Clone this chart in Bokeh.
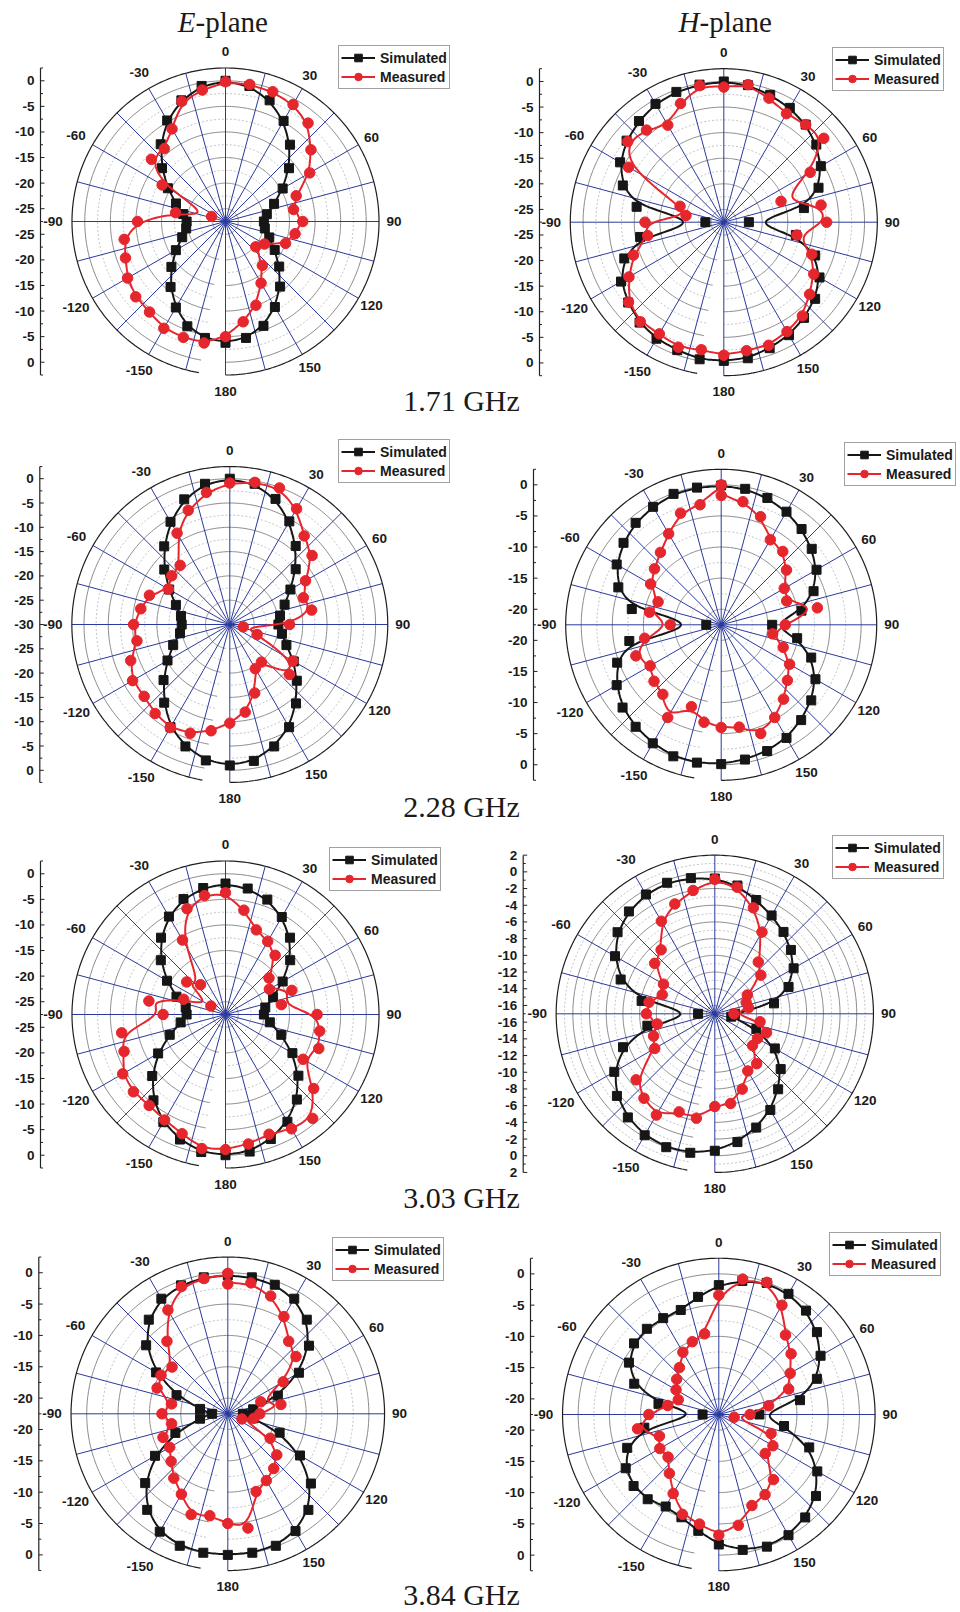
import numpy as np
from bokeh.plotting import figure
from bokeh.models import Range1d, Legend, LegendItem
from bokeh.core.properties import value
from bokeh.embed import file_html
from bokeh.resources import INLINE

# ---------------------------------------------------------------------------
# Radiation patterns (dB), sampled every 10 degrees from 0 to 360
# ---------------------------------------------------------------------------
ANGLES = list(range(0, 361, 10))

E171_SIM = [0.0, -0.6, -2.3, -4.8, -7.9, -11.3, -14.6, -17.4, -19.3, -20.0,
            -19.7, -18.4, -16.4, -13.8, -10.9, -8.2, -5.8, -4.4, -3.8, -4.4,
            -5.7, -8.1, -10.8, -13.7, -16.3, -18.5, -19.7, -19.9, -19.1, -17.2,
            -14.5, -11.3, -7.8, -4.7, -2.3, -0.6, 0.0]
E171_MEAS = [-0.2, -0.3, -0.5, -1.1, -2.4, -5.7, -8.5, -12.8, -14.0, -12.4,
             -13.7, -15.0, -18.7, -19.8, -16.3, -13.6, -10.1, -7.6, -5.0, -3.4,
             -3.4, -3.4, -4.4, -4.6, -5.4, -6.7, -7.4, -10.3, -17.6, -24.6,
             -13.2, -8.6, -8.9, -6.6, -2.5, -1.4, -0.2]

H171_SIM = [0.0, -0.3, -1.0, -1.7, -2.6, -3.9, -5.6, -7.8, -11.6, -22.6,
            -13.2, -8.5, -5.9, -4.2, -3.1, -2.0, -1.3, -0.5, -0.4, -0.3,
            -0.9, -1.2, -1.9, -3.1, -4.3, -6.8, -10.9, -23.9, -10.2, -6.5,
            -4.1, -2.7, -1.7, -0.8, -0.4, -0.2, 0.0]
H171_MEAS = [-1.1, -0.2, -1.7, -3.0, -2.6, -2.0, -8.0, -15.6, -8.2, -7.4,
             -13.0, -9.2, -7.2, -5.6, -3.6, -2.8, -1.9, -2.0, -1.5, -2.2,
             -1.5, -2.3, -2.1, -3.2, -6.1, -8.7, -12.4, -12.1, -20.0, -18.4,
             -6.0, -3.0, -4.0, -5.6, -2.8, -0.4, -1.1]

E228_SIM = [0.0, -0.6, -2.5, -5.5, -8.9, -12.3, -15.6, -18.0, -19.5, -20.0,
            -19.1, -17.6, -14.8, -12.0, -8.8, -5.6, -3.3, -1.5, -1.0, -1.6,
            -3.3, -5.6, -9.0, -12.2, -15.2, -17.6, -19.6, -20.1, -19.8, -18.2,
            -15.6, -12.4, -9.0, -5.6, -2.6, -0.6, 0.0]
E228_MEAS = [-0.9, -0.3, -0.1, -2.5, -6.2, -7.9, -12.0, -13.9, -12.9, -17.7,
             -27.2, -24.0, -15.0, -14.0, -19.9, -19.5, -15.0, -11.7, -9.7, -7.8,
             -6.2, -5.5, -6.1, -7.0, -6.9, -8.3, -10.6, -10.2, -11.4, -12.4,
             -15.4, -14.4, -14.1, -8.3, -5.0, -2.4, -0.9]

H228_SIM = [-0.1, -0.3, -0.8, -1.5, -2.4, -3.5, -4.8, -6.7, -9.4, -14.3,
            -10.1, -7.1, -5.0, -3.6, -2.5, -1.5, -0.9, -0.5, -0.1, 0.0,
            0.0, -0.5, -1.1, -1.8, -3.1, -4.7, -7.5, -20.1, -7.9, -4.9,
            -3.1, -2.0, -1.1, -0.6, -0.1, -0.1, -0.1]
H228_MEAS = [-1.7, -2.4, -4.0, -6.7, -7.1, -8.8, -10.8, -11.3, -6.8, -12.2,
             -14.1, -11.9, -9.8, -8.6, -6.9, -5.3, -3.9, -5.8, -6.0, -6.6,
             -8.5, -5.3, -7.9, -8.4, -9.3, -7.9, -10.0, -14.3, -10.8, -11.7,
             -9.4, -8.5, -7.3, -5.6, -3.4, -2.9, 0.0]

E303_SIM = [-1.9, -2.5, -3.6, -5.5, -7.9, -11.0, -14.6, -17.6, -19.6, -20.0,
            -18.7, -15.9, -12.4, -8.9, -5.8, -3.3, -1.6, -0.3, 0.0, -0.2,
            -1.5, -3.2, -5.6, -8.8, -12.3, -15.9, -18.6, -19.9, -19.6, -17.3,
            -14.3, -11.0, -7.9, -5.4, -3.5, -2.4, -1.9]
E303_MEAS = [-3.7, -6.8, -9.9, -11.0, -12.4, -16.4, -17.6, -13.7, -16.4, -9.6,
             -8.8, -8.1, -10.0, -5.0, -1.0, -1.7, -2.6, -1.8, -1.1, -0.9,
             -2.7, -3.7, -4.3, -4.0, -4.3, -6.4, -6.9, -15.3, -12.3, -18.8,
             -24.2, -17.6, -19.9, -10.7, -5.5, -3.9, -3.7]

H303_SIM = [-0.8, -1.4, -2.5, -3.4, -4.2, -5.1, -6.1, -7.6, -9.8, -14.6,
            -15.0, -11.7, -8.7, -6.7, -5.2, -3.7, -2.5, -1.4, -0.6, -0.1,
            0.0, -0.2, -0.8, -1.7, -3.1, -5.3, -8.8, -15.0, -8.1, -5.0,
            -3.2, -1.8, -1.0, -0.5, -0.3, -0.5, -0.8]
H303_MEAS = [-0.9, -1.6, -3.5, -5.7, -8.9, -9.8, -12.5, -13.0, -12.9, -14.7,
             -11.5, -10.4, -11.1, -11.1, -9.2, -9.1, -7.4, -6.1, -5.9, -4.3,
             -4.5, -3.0, -3.8, -4.7, -8.7, -9.2, -10.0, -8.8, -9.0, -10.3,
             -9.9, -7.6, -7.0, -4.2, -3.0, -2.0, -0.9]

E384_SIM = [-0.4, -0.4, -0.6, -1.3, -2.9, -5.6, -9.4, -14.0, -18.4, -20.1,
            -18.4, -13.7, -9.2, -5.2, -2.5, -0.9, -0.1, 0.0, 0.0, 0.0,
            -0.1, -0.8, -2.5, -5.3, -9.1, -13.6, -18.0, -20.0, -18.0, -13.8,
            -9.3, -5.5, -2.9, -1.3, -0.7, -0.4, -0.4]
E384_MEAS = [-1.8, -1.3, -2.5, -4.6, -7.4, -8.3, -12.3, -16.9, -13.9, -17.4,
             -18.3, -20.1, -14.7, -12.3, -11.1, -10.2, -9.3, -4.0, -5.0, -6.0,
             -5.4, -7.7, -9.1, -10.7, -11.8, -11.5, -13.4, -12.0, -13.4, -10.5,
             -10.2, -10.9, -7.4, -3.4, -0.9, -0.6, -0.1]

H384_SIM = [-1.8, -0.8, -0.1, -0.2, -0.8, -2.0, -3.7, -5.8, -9.3, -16.0,
            -11.9, -7.1, -4.3, -2.2, -1.0, -0.2, 0.0, -0.5, -1.7, -3.6,
            -5.0, -5.5, -4.8, -4.7, -5.3, -6.9, -10.4, -19.9, -12.7, -8.1,
            -5.9, -4.8, -4.6, -4.7, -4.7, -3.4, -1.8]
H384_MEAS = [-3.4, -0.5, 0.0, -2.3, -5.9, -7.4, -9.3, -10.6, -14.4, -17.5,
             -20.0, -13.6, -12.5, -12.8, -8.9, -7.7, -7.0, -4.5, -3.2, -4.7,
             -5.5, -7.9, -10.2, -11.9, -11.6, -12.4, -9.3, -11.3, -14.2, -15.6,
             -14.6, -13.7, -12.7, -11.0, -10.1, -9.4, -3.4]

SERIES_NAMES = ["Simulated", "Measured"]
PLANE_TITLES = [("E", "-plane"), ("H", "-plane")]
FREQ_LABELS = ["1.71 GHz", "2.28 GHz", "3.03 GHz", "3.84 GHz"]
ANGLE_TICKS = [0, 30, 60, 90, 120, 150, 180, -150, -120, -90, -60, -30]

# ---------------------------------------------------------------------------
# Page layout (pixels) and radial scale of every polar panel
# ---------------------------------------------------------------------------
W, H = 960, 1612
PANELS = [
    dict(sim=E171_SIM, meas=E171_MEAS, cx=225.0, cy=221.0, rmin=-27.5, rmax=2.5, step=5, scale=5.117, axis_x=40.0, leg=(338, 49)),
    dict(sim=H171_SIM, meas=H171_MEAS, cx=723.3, cy=221.7, rmin=-27.5, rmax=2.5, step=5, scale=5.117, axis_x=539.0, leg=(832, 51)),
    dict(sim=E228_SIM, meas=E228_MEAS, cx=229.3, cy=624.0, rmin=-30.0, rmax=2.5, step=5, scale=4.86, axis_x=39.3, leg=(338, 443)),
    dict(sim=H228_SIM, meas=H228_MEAS, cx=720.7, cy=624.3, rmin=-22.5, rmax=2.5, step=5, scale=6.22, axis_x=533.0, leg=(844, 446)),
    dict(sim=E303_SIM, meas=E303_MEAS, cx=225.0, cy=1014.0, rmin=-27.5, rmax=2.5, step=5, scale=5.117, axis_x=40.0, leg=(329, 851)),
    dict(sim=H303_SIM, meas=H303_MEAS, cx=714.3, cy=1013.3, rmin=-17.0, rmax=2.0, step=2, scale=8.35, axis_x=522.7, leg=(832, 839)),
    dict(sim=E384_SIM, meas=E384_MEAS, cx=227.3, cy=1413.3, rmin=-22.5, rmax=2.5, step=5, scale=6.27, axis_x=38.3, leg=(332, 1241)),
    dict(sim=H384_SIM, meas=H384_MEAS, cx=718.3, cy=1414.0, rmin=-22.5, rmax=2.5, step=5, scale=6.25, axis_x=530.0, leg=(829, 1236)),
]
TITLE_POS = [(195, 21), (699, 21)]          # join point of letter and "-plane", text middle
FREQ_POS = [(461, 400), (461, 806), (461, 1197), (461, 1594)]
LEG_H = 40

SANS = value("Liberation Sans")
SERIF = value("Liberation Serif")
SIM_COLOR = "#161616"
MEAS_COLOR = "#e5262d"
SPOKE_COLOR = "#2b3a9c"


def bspline_closed(xs, ys, n=12):
    """Uniform cubic B-spline through a closed ring of control points."""
    P = np.column_stack([xs, ys])
    m = len(P)
    t = np.linspace(0.0, 1.0, n, endpoint=False)[:, None]
    b0 = (1 - t) ** 3 / 6
    b1 = (3 * t ** 3 - 6 * t ** 2 + 4) / 6
    b2 = (-3 * t ** 3 + 3 * t ** 2 + 3 * t + 1) / 6
    b3 = t ** 3 / 6
    segs = [b0 * P[(i - 1) % m] + b1 * P[i] + b2 * P[(i + 1) % m] + b3 * P[(i + 2) % m]
            for i in range(m)]
    out = np.vstack(segs + [segs[0][:1]])
    return out[:, 0], out[:, 1]


def polar_xy(angles_deg, vals, rmin):
    th = np.radians(np.asarray(angles_deg, dtype=float))
    rr = np.asarray(vals, dtype=float) - rmin
    return rr * np.sin(th), rr * np.cos(th)


p = figure(width=W, height=H, x_range=Range1d(0, W), y_range=Range1d(H, 0),
           x_axis_location=None, y_axis_location=None,
           output_backend="svg", toolbar_location=None, min_border=0)
p.grid.grid_line_color = None
p.outline_line_color = None
p.background_fill_color = "white"


def draw_panel(cfg):
    cx, cy, s = cfg["cx"], cfg["cy"], cfg["scale"]
    rmin, rmax, step = cfg["rmin"], cfg["rmax"], cfg["step"]
    R = rmax - rmin
    half = step / 2.0
    sub = p.subplot(x_source=Range1d(-1, 1), y_source=Range1d(-1, 1),
                    x_target=Range1d(cx - s, cx + s), y_target=Range1d(cy + s, cy - s))

    # radial levels (dB) on the half-step lattice
    levels = np.arange(np.ceil(rmin / half) * half, rmax + 1e-9, half)
    is_major = [abs(v / step - round(v / step)) < 1e-9 for v in levels]

    # concentric grid: the angular scale spans -170 .. 180 degrees
    th = np.radians(np.linspace(-170, 180, 351))
    solid_x, solid_y, dash_x, dash_y = [], [], [], []
    for v, mj in zip(levels, is_major):
        rr = v - rmin
        if rr <= 1e-9 or rr >= R - 1e-9:
            continue
        if mj:
            solid_x.append(list(rr * np.sin(th)))
            solid_y.append(list(rr * np.cos(th)))
        else:
            dash_x.append(list(rr * np.sin(th)))
            dash_y.append(list(rr * np.cos(th)))
    sub.multi_line(dash_x, dash_y, line_color="#b4b4b4", line_width=0.8, line_dash="2 2")
    sub.multi_line(solid_x, solid_y, line_color="#8a8a8a", line_width=1.0)

    # angular spokes every 15 degrees
    sp = np.radians(np.arange(0, 360, 15))
    sub.segment(x0=np.zeros(len(sp)), y0=np.zeros(len(sp)),
                x1=R * np.sin(sp), y1=R * np.cos(sp),
                line_color=SPOKE_COLOR, line_width=1.0)
    sub.line(R * np.sin(th), R * np.cos(th), line_color="#1e1e1e", line_width=1.2)

    # angle labels round the rim
    lx, ly, lt = [], [], []
    for a in ANGLE_TICKS:
        d = 16.0 if a in (0, 180) else (15.0 if a > 0 else 19.0)
        ra = R + d / s
        lx.append(ra * np.sin(np.radians(a)))
        ly.append(ra * np.cos(np.radians(a)))
        lt.append(str(a))
    sub.text(lx, ly, text=lt, text_font=SANS, text_font_size="13.5px", text_font_style="bold",
             text_align="center", text_baseline="middle", text_color="#1a1a1a")

    # radial axis on the left, mirrored about the pole
    ax = (cfg["axis_x"] - cx) / s
    sub.segment(x0=[ax], y0=[-R], x1=[ax], y1=[R], line_color="#222222", line_width=1.2)
    tx0, ty0, tx1, ty1 = [], [], [], []
    nx, ny, nt = [], [], []
    for v, mj in zip(levels, is_major):
        rr = v - rmin
        ln = (4.0 if mj else 2.5) / s
        for y in ([rr] if rr < 1e-9 else [rr, -rr]):
            tx0.append(ax); ty0.append(y); tx1.append(ax + ln); ty1.append(y)
            if mj:
                nx.append(ax - 6.0 / s); ny.append(y); nt.append(f"{v:g}")
    sub.segment(x0=tx0, y0=ty0, x1=tx1, y1=ty1, line_color="#222222", line_width=1.0)
    sub.text(nx, ny, text=nt, text_font=SANS, text_font_size="13.5px", text_font_style="bold",
             text_align="right", text_baseline="middle", text_color="#1a1a1a")

    # simulated pattern: smoothed curve and square markers
    ang = list(ANGLES)
    sim = list(cfg["sim"])
    ang_s = ang
    if abs(sim[-1] - sim[0]) < 1e-9:
        sim, ang_s = sim[:-1], ang[:-1]
    sxp, syp = polar_xy(ang_s, sim, rmin)
    cxs, cys = bspline_closed(sxp, syp)
    r_sim_line = sub.line(cxs, cys, line_color=SIM_COLOR, line_width=2.0)
    r_sim_pts = sub.scatter(sxp, syp, marker="square", size=9, fill_color=SIM_COLOR,
                            line_color=SIM_COLOR)

    # measured pattern: smoothed curve and round markers
    meas = list(cfg["meas"])
    ang_m = ang
    if abs(meas[-1] - meas[0]) < 1e-9:
        meas, ang_m = meas[:-1], ang[:-1]
    mxp, myp = polar_xy(ang_m, meas, rmin)
    cxm, cym = bspline_closed(mxp, myp)
    r_meas_line = sub.line(cxm, cym, line_color=MEAS_COLOR, line_width=2.0)
    r_meas_pts = sub.scatter(mxp, myp, marker="circle", size=10.5, fill_color=MEAS_COLOR,
                             line_color=MEAS_COLOR)

    bx, by = cfg["leg"]
    leg = Legend(
        items=[LegendItem(label=SERIES_NAMES[0], renderers=[r_sim_line, r_sim_pts]),
               LegendItem(label=SERIES_NAMES[1], renderers=[r_meas_line, r_meas_pts])],
        location=(bx, H - by - LEG_H), orientation="vertical",
        glyph_width=34, glyph_height=19, label_height=19, label_standoff=5,
        padding=2, spacing=-2, margin=0,
        border_line_color="#444444", border_line_width=1.5,
        background_fill_color="white", background_fill_alpha=1.0,
        label_text_font="Liberation Sans", label_text_font_size="14px",
        label_text_font_style="bold", label_text_color="#1a1a1a",
    )
    p.add_layout(leg)


for cfg in PANELS:
    draw_panel(cfg)

# column headings with an italic field letter
for (letter, rest), (xj, ym) in zip(PLANE_TITLES, TITLE_POS):
    p.text([xj], [ym], text=[letter], text_font=SERIF, text_font_size="29px",
           text_font_style="italic", text_align="right", text_baseline="middle",
           text_color="#1a1a1a")
    p.text([xj], [ym], text=[rest], text_font=SERIF, text_font_size="29px",
           text_align="left", text_baseline="middle", text_color="#1a1a1a")

# frequency captions below each row
for lab, (x, y) in zip(FREQ_LABELS, FREQ_POS):
    p.text([x], [y], text=[lab], text_font=SERIF, text_font_size="30px",
           text_align="center", text_baseline="middle", text_color="#1a1a1a")

open("out.html", "w").write(file_html(p, INLINE))
